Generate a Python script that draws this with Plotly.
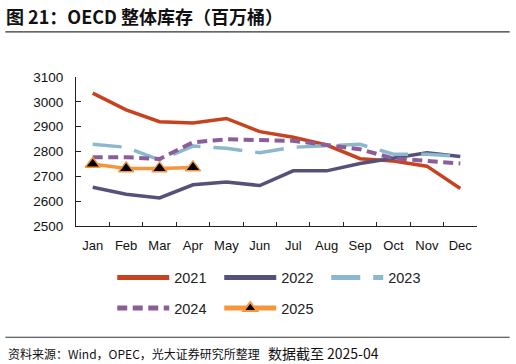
import plotly.graph_objects as go

months = ["Jan", "Feb", "Mar", "Apr", "May", "Jun", "Jul", "Aug", "Sep", "Oct", "Nov", "Dec"]
y2021 = [3035, 2968, 2920, 2915, 2933, 2880, 2857, 2826, 2771, 2762, 2741, 2651]
y2022 = [2656, 2628, 2613, 2666, 2677, 2663, 2722, 2722, 2752, 2774, 2795, 2780]
y2023 = [2829, 2817, 2766, 2822, 2813, 2795, 2817, 2823, 2829, 2789, 2789, 2780]
y2024 = [2777, 2777, 2770, 2837, 2849, 2847, 2843, 2826, 2809, 2772, 2763, 2752]
y2025 = [2750, 2732, 2732, 2736]
yticks = [2500, 2600, 2700, 2800, 2900, 3000, 3100]

W, H = 516, 364
L, R, T, B = 75.7, 477.3, 77.3, 225.7


def px(x):
    return (x - L) / (R - L)


def py(y):
    return (B - y) / (B - T)


fig = go.Figure()
fig.add_trace(go.Scatter(x=months, y=y2021, name="2021", mode="lines",
                         line=dict(color="#C9421F", width=3.5), legend="legend"))
fig.add_trace(go.Scatter(x=months, y=y2022, name="2022", mode="lines",
                         line=dict(color="#55527A", width=3.5), legend="legend"))
fig.add_trace(go.Scatter(x=months, y=y2023, name="2023", mode="lines",
                         line=dict(color="#8CB8CE", width=3.5, dash="29px,13px"), legend="legend"))
fig.add_trace(go.Scatter(x=months, y=y2024, name="2024", mode="lines",
                         line=dict(color="#8B5D9A", width=4, dash="10px,5.5px"), legend="legend2"))
fig.add_trace(go.Scatter(x=months[:len(y2025)], y=y2025, name="2025", mode="lines+markers",
                         line=dict(color="#F7953D", width=3.5),
                         marker=dict(symbol="triangle-up", size=13, color="#000000",
                                     line=dict(color="#F7953D", width=1.5)),
                         legend="legend2"))

font_latin = "Liberation Sans, Arial, sans-serif"
font_cjk = "Noto Sans CJK SC, sans-serif"

legend_common = dict(orientation="h", xanchor="left", yanchor="middle",
                     font=dict(family=font_latin, size=14.5, color="#222"),
                     bgcolor="rgba(0,0,0,0)", entrywidth=40, entrywidthmode="pixels",
                     itemwidth=52, itemsizing="constant", tracegroupgap=0)

fig.update_layout(
    width=W, height=H,
    margin=dict(l=L, r=W - R, t=T, b=H - B, autoexpand=False),
    paper_bgcolor="white", plot_bgcolor="white",
    showlegend=True,
    legend=dict(x=px(112), y=py(277), **legend_common),
    legend2=dict(x=px(112), y=py(307.5), **legend_common),
    title=dict(text="<b>图 21：OECD 整体库存（百万桶）</b>", xref="container", yref="container",
               x=6 / W, y=1 - 18 / H, xanchor="left", yanchor="middle",
               font=dict(family=font_cjk, size=18, color="#111")),
    xaxis=dict(type="category", showline=True, linecolor="#222", linewidth=1,
               ticks="inside", ticklen=4, tickcolor="#222", tickson="boundaries",
               showgrid=False, zeroline=False, range=[-0.5, 11.5], tickangle=0,
               tickfont=dict(family=font_latin, size=13, color="#111"), ticklabelstandoff=7),
    yaxis=dict(range=[2500, 3100], tickvals=yticks, showline=True, linecolor="#222", linewidth=1,
               ticks="inside", ticklen=5, tickcolor="#222", showgrid=False, zeroline=False,
               tickfont=dict(family=font_latin, size=13.5, color="#111"), ticklabelstandoff=9),
)

# title underline and footer line
fig.add_shape(type="line", xref="paper", yref="paper", x0=px(5), x1=px(510), y0=py(32.3), y1=py(32.3),
              line=dict(color="#333", width=1.2))
fig.add_shape(type="line", xref="paper", yref="paper", x0=px(5), x1=px(510), y0=py(336.5), y1=py(336.5),
              line=dict(color="#333", width=1.2))
fig.add_annotation(text="资料来源：Wind，OPEC，光大证券研究所整理&nbsp;&nbsp;&nbsp;"
                        "<span style=\"font-size:14px\">数据截至 2025-04</span>",
                   xref="paper", yref="paper", x=px(6), y=py(352), xanchor="left", yanchor="middle",
                   showarrow=False, font=dict(family=font_cjk, size=12, color="#111"))

fig.write_html("out.html", config={"displayModeBar": False},
               post_script="document.body.style.margin='0';document.body.style.padding='0';")
